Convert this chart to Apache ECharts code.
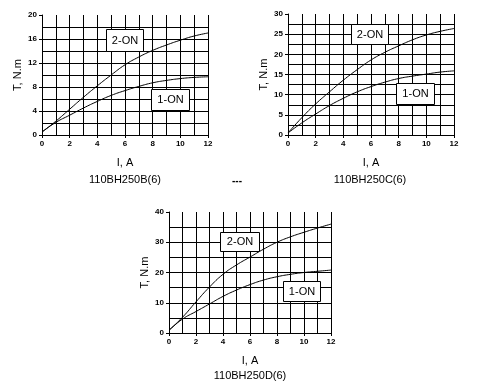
<!DOCTYPE html>
<html>
<head>
<meta charset="utf-8">
<script src="https://cdn.jsdelivr.net/npm/echarts@6/dist/echarts.min.js"></script>
<style>
html,body{margin:0;padding:0;background:#fff;}
#c{width:487px;height:389px;}
</style>
</head>
<body>
<div id="c"></div>
<script>
// Current (A) sample points shared by all charts
var currents = [0,1,2,3,4,5,6,7,8,9,10,11,12];

// 110BH250B(6)
var b_2on = [0.5, 2.3, 4.3, 6.3, 8.2, 10.0, 11.7, 13.0, 14.1, 15.0, 15.8, 16.5, 17.0];
var b_1on = [0.5, 2.1, 3.3, 4.5, 5.6, 6.6, 7.4, 8.1, 8.7, 9.1, 9.4, 9.6, 9.7];
// 110BH250C(6)
var c_2on = [0.5, 4.3, 7.7, 10.7, 13.6, 16.2, 18.6, 20.5, 22.1, 23.6, 24.8, 25.7, 26.4];
var c_1on = [0.5, 3.0, 5.2, 7.3, 9.1, 10.7, 12.0, 13.1, 14.0, 14.6, 15.1, 15.6, 15.9];
// 110BH250D(6)
var d_2on = [0.9, 5.2, 10.3, 15.2, 19.4, 22.5, 25.1, 27.7, 30.0, 31.8, 33.3, 34.7, 36.0];
var d_1on = [0.9, 4.6, 7.1, 9.6, 12.1, 14.2, 16.0, 17.5, 18.6, 19.4, 20.0, 20.4, 20.8];

var captions = ['110BH250B(6)', '110BH250C(6)', '110BH250D(6)'];
var seriesNames = ['2-ON', '1-ON'];
var yMax = [20, 30, 40];
var yStep = [4, 5, 10];
var xTitle = 'I, A';
var yTitle = 'T, N.m';

function pairs(vals){ return currents.map(function(x,i){ return [x, vals[i]]; }); }

var FONT = 'Liberation Sans, Arial, sans-serif';
var grids = [
  {left:42, top:15, width:166, height:120},
  {left:288, top:14, width:166, height:121},
  {left:169, top:212, width:162, height:121}
];

var xAxes = [], yAxes = [];
for (var g=0; g<3; g++){
  xAxes.push({
    type:'value', gridIndex:g, min:0, max:12, interval:2,
    name:xTitle, nameLocation:'middle', nameGap:22,
    nameTextStyle:{fontFamily:FONT, fontSize:11, color:'#000'},
    axisLine:{show:true, lineStyle:{color:'#000', width:1}},
    axisTick:{show:true, length:3, lineStyle:{color:'#000'}},
    axisLabel:{fontFamily:FONT, fontSize:8, fontWeight:'bold', color:'#000', margin:5},
    splitLine:{show:true, lineStyle:{color:'#000', width:1}},
    minorTick:{show:false, splitNumber:2},
    minorSplitLine:{show:true, lineStyle:{color:'#000', width:1}}
  });
  yAxes.push({
    type:'value', gridIndex:g, min:0, max:yMax[g], interval:yStep[g],
    name:yTitle, nameLocation:'middle', nameGap:19, nameRotate:90,
    nameTextStyle:{fontFamily:FONT, fontSize:11, color:'#000'},
    axisLine:{show:true, lineStyle:{color:'#000', width:1}},
    axisTick:{show:true, length:3, lineStyle:{color:'#000'}},
    axisLabel:{fontFamily:FONT, fontSize:8, fontWeight:'bold', color:'#000', margin:5},
    splitLine:{show:true, showMaxLine:false, lineStyle:{color:'#000', width:1}},
    minorTick:{show:false, splitNumber:2},
    minorSplitLine:{show:true, lineStyle:{color:'#000', width:1}}
  });
}

var allData = [[b_2on, b_1on],[c_2on, c_1on],[d_2on, d_1on]];
var series = [];
for (var k=0; k<3; k++){
  for (var s=0; s<2; s++){
    series.push({
      type:'line', name:seriesNames[s], xAxisIndex:k, yAxisIndex:k,
      data:pairs(allData[k][s]), smooth:true, showSymbol:false, silent:true,
      lineStyle:{color:'#000', width:1}, z:2
    });
  }
}

function box(x, y, w, h, txt){
  return [
    {type:'rect', z:100, zlevel:0, shape:{x:x, y:y, width:w, height:h}, style:{fill:'#ffffff', stroke:'#000', lineWidth:1}},
    {type:'text', z:101, zlevel:0, x:x + w/2, y:y + h/2, style:{text:txt, fill:'#000', font:'11px '+FONT, align:'center', verticalAlign:'middle'}}
  ];
}
function label(cx, cy, txt, size, weight){
  return {type:'text', x:cx, y:cy, z:100, style:{text:txt, fill:'#000', font:(weight||'normal')+' '+size+'px '+FONT, align:'center', verticalAlign:'middle'}};
}

var graphics = [].concat(
  box(106.5, 29.5, 37, 22, seriesNames[0]),
  box(151.5, 89.5, 38, 21, seriesNames[1]),
  box(351.5, 24.5, 37, 20, seriesNames[0]),
  box(396.5, 83.5, 38, 21, seriesNames[1]),
  box(220.5, 232.5, 39, 19, seriesNames[0]),
  box(283.5, 281.5, 37, 20, seriesNames[1]),
  [
    label(125, 180, captions[0], 11),
    label(370, 180, captions[1], 11),
    label(250, 376, captions[2], 11),
    label(237, 181, '---', 10, 'bold')
  ]
);

var chart = echarts.init(document.getElementById('c'), null, {renderer:'canvas'});
chart.setOption({
  animation:false,
  backgroundColor:'#fff',
  grid:grids,
  xAxis:xAxes,
  yAxis:yAxes,
  series:series,
  graphic:{elements:graphics}
});
</script>
</body>
</html>
